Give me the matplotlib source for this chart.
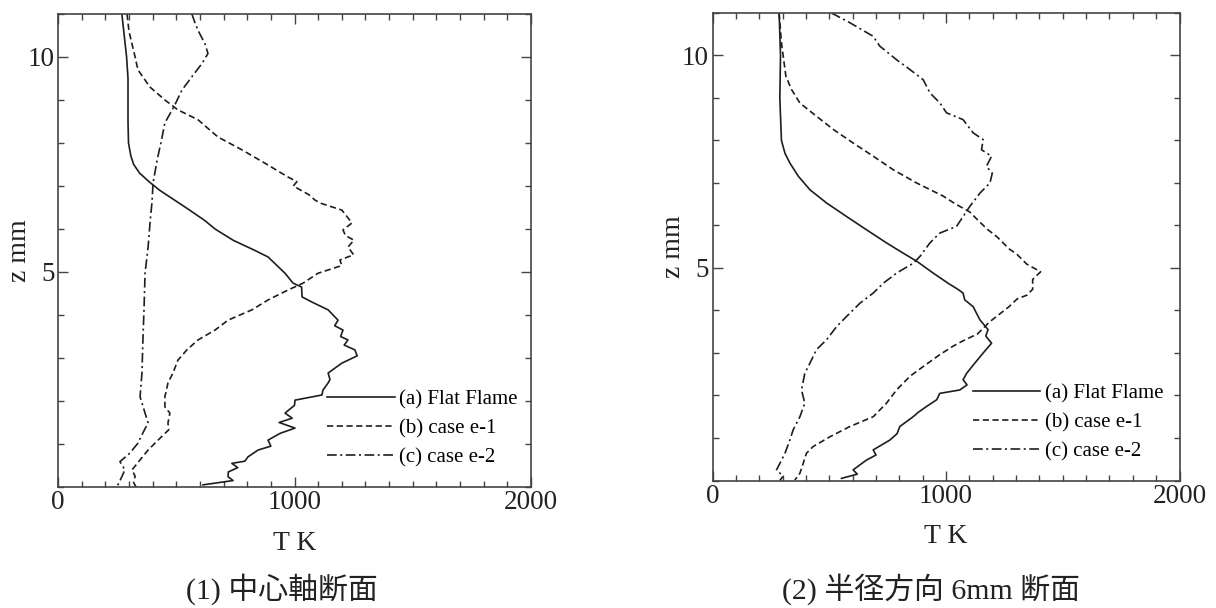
import matplotlib
matplotlib.use('Agg')
import matplotlib.pyplot as plt
from matplotlib.ticker import MultipleLocator

# ====================================
# DATA (T in K, z in mm)
# ====================================

# (1) center axis
c_flat_z = [11.0, 10.0, 9.5, 8.5, 8.0, 7.7, 7.5, 7.3, 7.1, 6.9, 6.7, 6.5, 6.2, 6.0, 5.74, 5.5, 5.35,
            4.97, 4.74, 4.65, 4.42, 4.3, 4.12, 3.88, 3.75, 3.65, 3.5, 3.42, 3.3, 3.19, 3.05, 2.88,
            2.65, 2.5, 2.42, 2.25, 2.14, 2.02, 1.9, 1.72, 1.6, 1.5, 1.37, 1.25, 1.09, 0.95, 0.86,
            0.7, 0.6, 0.55, 0.45, 0.35, 0.24, 0.15, 0.05]
c_flat_T = [270, 290, 296, 296, 298, 308, 320, 345, 385, 430, 485, 540, 620, 664, 740, 833, 888,
            960, 994, 1030, 1032, 1074, 1142, 1184, 1170, 1205, 1195, 1226, 1210, 1255, 1265, 1200,
            1142, 1150, 1142, 1120, 1116, 1002, 1000, 960, 990, 935, 1002, 940, 888, 900, 846,
            803, 790, 735, 760, 720, 719, 740, 613]

c_e1_z = [11.0, 10.6, 10.0, 9.7, 9.3, 9.0, 8.77, 8.54, 8.14, 7.84, 7.53, 7.21, 7.1, 7.0, 6.8, 6.67,
          6.6, 6.44, 6.14, 5.98, 5.85, 5.74, 5.58, 5.4, 5.28, 5.15, 4.97, 4.74, 4.58, 4.35, 4.12,
          3.88, 3.65, 3.42, 3.19, 2.95, 2.65, 2.42, 2.1, 1.86, 1.72, 1.49, 1.33, 1.09, 0.86, 0.63,
          0.4, 0.25, 0.1, 0.0]
c_e1_T = [292, 300, 326, 338, 389, 452, 507, 592, 676, 778, 875, 972, 1010, 995, 1060, 1087,
          1110, 1200, 1243, 1205, 1215, 1251, 1226, 1250, 1192, 1200, 1099, 1036, 972, 888, 820,
          719, 664, 592, 545, 507, 486, 465, 452, 452, 473, 465, 468, 423, 381, 347,
          313, 326, 320, 330]

c_e2_z = [11.0, 10.8, 10.62, 10.3, 10.08, 9.85, 9.54, 9.23, 8.84, 8.47, 8.0, 7.6, 7.07, 6.6, 6.14,
          5.58, 4.97, 4.19, 3.42, 2.65, 2.1, 1.72, 1.49, 1.26, 1.02, 0.79, 0.59, 0.4, 0.24, 0.0]
c_e2_T = [566, 579, 592, 622, 634, 609, 566, 524, 490, 452, 435, 419, 402, 397, 389,
          381, 368, 364, 359, 355, 347, 368, 381, 359, 338, 304, 262, 283, 270, 249]

# (2) radial 6mm
r_flat_z = [11.0, 10.0, 9.0, 8.0, 7.7, 7.47, 7.16, 6.84, 6.53, 6.21, 5.9, 5.59, 5.35, 5.16, 4.88,
            4.64, 4.5, 4.41, 4.25, 4.09, 3.78, 3.55, 3.4, 3.23, 3.0, 2.76, 2.52, 2.37, 2.25, 2.13,
            2.05, 1.9, 1.74, 1.6, 1.5, 1.27, 1.1, 0.95, 0.72, 0.6, 0.48, 0.25, 0.15, 0.05]
r_flat_T = [285, 291, 288, 295, 310, 331, 367, 417, 488, 574, 659, 745, 816, 874, 945,
            1009, 1050, 1073, 1080, 1116, 1145, 1180, 1170, 1195, 1159, 1123, 1088, 1073, 1090, 1059,
            973, 960, 916, 880, 859, 802, 790, 759, 688, 700, 659, 602, 620, 552]

r_e1_z = [11.0, 10.3, 9.51, 9.2, 8.88, 8.57, 8.26, 7.94, 7.63, 7.31, 7.0, 6.69, 6.5, 6.32, 6.09,
          5.91, 5.73, 5.45, 5.32, 5.09, 4.91, 4.73, 4.5, 4.36, 4.27, 4.09, 3.73, 3.45, 3.27, 3.16,
          2.96, 2.68, 2.45, 2.13, 1.82, 1.5, 1.27, 1.03, 0.8, 0.64, 0.4, 0.17, 0.01]
r_e1_T = [285, 295, 314, 338, 374, 445, 517, 602, 688, 774, 874, 988, 1042, 1101, 1143,
          1177, 1219, 1270, 1304, 1346, 1405, 1371, 1371, 1346, 1304, 1270, 1186, 1135, 1067, 1030,
          973, 902, 845, 788, 745, 688, 588, 503, 431, 402, 388, 374, 352]

r_e2_z = [11.0, 10.77, 10.45, 10.22, 9.9, 9.67, 9.43, 9.12, 8.88, 8.65, 8.49, 8.18, 8.02, 7.78,
          7.63, 7.39, 7.23, 7.0, 6.76, 6.45, 6.21, 5.98, 5.82, 5.59, 5.27, 5.11, 4.88, 4.64, 4.41,
          4.17, 3.86, 3.62, 3.31, 3.08, 2.76, 2.52, 2.13, 1.82, 1.5, 1.19, 0.95, 0.64, 0.4, 0.25,
          0.1, 0.0]
r_e2_T = [509, 588, 688, 716, 788, 845, 902, 931, 974, 1002, 1073, 1116, 1159, 1152,
          1195, 1173, 1198, 1188, 1145, 1102, 1073, 1045, 973, 931, 888, 859, 788, 731, 688,
          631, 574, 531, 488, 445, 417, 395, 381, 395, 374, 345, 331, 310, 288, 274,
          302, 288]

labels = ['(a) Flat Flame', '(b) case e-1', '(c) case e-2']
captions = ['(1) 中心軸断面', '(2) 半径方向 6mm 断面']

# ====================================
# STYLE
# ====================================

plt.rcParams['font.family'] = ['Liberation Serif', 'Noto Sans CJK JP']
plt.rcParams['lines.scale_dashes'] = False

line_col = '#1e1e1e'
spine_col = '#444444'
text_col = '#222222'
styles = ['-', (0, (4.5, 2.5)), (0, (7, 2.5, 1.5, 2.5))]

fig = plt.figure(figsize=(12.16, 6.08), dpi=100)

ax1 = fig.add_axes([0.0477, 0.199, 0.389, 0.778])
ax2 = fig.add_axes([0.586, 0.2097, 0.384, 0.769])

panels = [
    (ax1, [(c_flat_T, c_flat_z), (c_e1_T, c_e1_z), (c_e2_T, c_e2_z)], (0.569, 0.205)),
    (ax2, [(r_flat_T, r_flat_z), (r_e1_T, r_e1_z), (r_e2_T, r_e2_z)], (0.557, 0.206)),
]

for ax, series, leg_pos in panels:
    for (T, z), ls, lab in zip(series, styles, labels):
        ax.plot(T, z, color=line_col, lw=1.2, linestyle=ls, label=lab)

    ax.set_xlim(0, 2000)
    ax.set_ylim(0, 11)
    ax.xaxis.set_major_locator(MultipleLocator(1000))
    ax.xaxis.set_minor_locator(MultipleLocator(100))
    ax.yaxis.set_minor_locator(MultipleLocator(1))
    ax.set_yticks([5, 10])

    ax.tick_params(which='both', direction='in', top=True, right=True,
                   color=spine_col, width=1.0, labelsize=19.5, labelcolor=text_col)
    ax.tick_params(which='major', length=7, pad=2.5)
    ax.tick_params(which='minor', length=4)
    for sp in ax.spines.values():
        sp.set_color(spine_col)
        sp.set_linewidth(1.2)

    ax.set_xlabel('T K', fontsize=20, labelpad=11, color=text_col)
    ax.set_ylabel('z mm', fontsize=20, labelpad=-3, color=text_col)

    ax.legend(loc='upper left', bbox_to_anchor=leg_pos, frameon=False, fontsize=15,
              handlelength=3.25, handletextpad=0.2, labelspacing=0.45,
              borderpad=0, borderaxespad=0)

# Captions
fig.text(282 / 1216, 1 - 589 / 608, captions[0], ha='center', va='center', fontsize=21.5, color=text_col)
fig.text(931 / 1216, 1 - 589 / 608, captions[1], ha='center', va='center', fontsize=21.5, color=text_col)

plt.savefig('out.png', dpi=100)
